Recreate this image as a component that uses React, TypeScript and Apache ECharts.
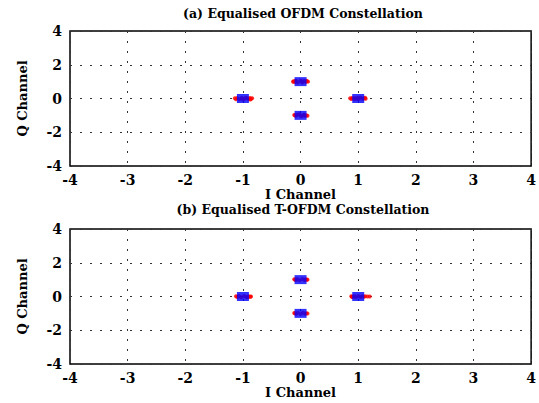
import React, { useEffect, useRef } from "react";
import * as echarts from "echarts";

const titles = ["(a) Equalised OFDM Constellation", "(b) Equalised T-OFDM Constellation"];
const xName = "I Channel";
const yName = "Q Channel";

// ideal constellation points (blue squares)
const idealPoints: number[][] = [
  [1, 0],
  [-1, 0],
  [0, 1],
  [0, -1],
];

// (a) equalised OFDM received symbols (red)
const ofdmPoints: number[][] = [
  [0.86, 0.02], [0.88, -0.03], [0.9, 0.04], [0.93, -0.05], [0.95, 0.03], [1.0, 0.05], [1.0, -0.05],
  [1.05, 0.04], [1.08, -0.03], [1.1, 0.02], [1.13, -0.01], [1.12, 0.04], [0.97, -0.02], [1.03, 0.01],
  [-1.14, 0.02], [-1.12, -0.04], [-1.1, 0.03], [-1.06, -0.05], [-1.02, 0.04], [-0.98, -0.03], [-0.95, 0.05],
  [-0.9, -0.04], [-0.88, 0.03], [-0.86, -0.02], [-0.84, 0.01], [-0.92, 0.02], [-1.0, -0.06], [-0.87, -0.06],
  [-0.12, 1.02], [-0.1, 0.97], [-0.08, 1.05], [-0.05, 0.95], [0.0, 1.07], [0.03, 0.94], [0.06, 1.04],
  [0.09, 0.98], [0.11, 1.02], [0.13, 1.0], [-0.13, 0.99], [0.1, 1.05], [-0.09, 1.04], [0.02, 1.01],
  [-0.1, -1.0], [-0.08, -1.03], [-0.06, -0.96], [-0.02, -0.93], [0.02, -1.06], [0.05, -0.97], [0.08, -1.03],
  [0.1, -1.0], [0.12, -1.02], [-0.11, -0.98], [0.07, -0.96], [0.0, -1.02],
];

// (b) equalised T-OFDM received symbols (red)
const tofdmPoints: number[][] = [
  [0.88, 0.02], [0.9, -0.03], [0.93, 0.03], [0.96, -0.04], [1.0, 0.03], [1.04, -0.03], [1.07, 0.02],
  [1.1, -0.01], [1.12, 0.01], [1.16, 0.0], [1.2, 0.0], [0.89, -0.01],
  [-1.12, 0.01], [-1.1, -0.03], [-1.07, 0.03], [-1.03, -0.04], [-0.98, 0.03], [-0.94, -0.03], [-0.9, 0.02],
  [-0.87, -0.02], [-0.86, 0.0], [-0.91, -0.04],
  [-0.1, 1.0], [-0.08, 0.97], [-0.06, 1.03], [-0.02, 0.96], [0.03, 1.04], [0.07, 0.97], [0.09, 1.02],
  [0.11, 0.99], [0.12, 1.0], [-0.11, 1.02],
  [-0.1, -1.0], [-0.08, -1.03], [-0.05, -0.96], [0.0, -1.04], [0.04, -0.96], [0.08, -1.03], [0.1, -0.99],
  [0.12, -1.01], [-0.11, -0.98],
];

const xTicks = { min: -4, max: 4, interval: 1 };
const yTicks = { min: -4, max: 4, interval: 2 };

const FONT = "DejaVu Serif";

export default function App() {
  const ref = useRef<HTMLDivElement>(null);
  useEffect(() => {
    if (!ref.current) return;
    const chart = echarts.init(ref.current, undefined, { renderer: "svg" });
    const grids = [
      { left: 70, top: 31, width: 462, height: 135 },
      { left: 70, top: 229, width: 462, height: 135 },
    ];
    const splitLine = {
      show: true,
      lineStyle: { color: "#333", width: 1, type: [2, 8] as number[] },
    };
    const labelStyle = {
      color: "#000",
      fontFamily: FONT,
      fontWeight: "bold" as const,
      fontSize: 14,
    };
    const nameStyle = {
      color: "#000",
      fontFamily: FONT,
      fontWeight: "bold" as const,
      fontSize: 13,
    };
    chart.setOption({
      animation: false,
      backgroundColor: "#fff",
      title: titles.map((t, i) => ({
        text: t,
        left: 298,
        top: i === 0 ? 2 : 198,
        textAlign: "center",
        textStyle: { ...nameStyle, fontSize: 12.5 },
      })),
      grid: grids.map((g) => ({
        ...g,
        show: true,
        borderColor: "#000",
        borderWidth: 1.5,
        backgroundColor: "#fff",
      })),
      xAxis: [0, 1].map((i) => ({
        type: "value",
        gridIndex: i,
        ...xTicks,
        name: xName,
        nameLocation: "middle",
        nameGap: 18,
        nameTextStyle: nameStyle,
        axisLine: { show: false },
        axisTick: { show: false },
        axisLabel: { ...labelStyle, margin: 7 },
        splitLine,
      })),
      yAxis: [0, 1].map((i) => ({
        type: "value",
        gridIndex: i,
        ...yTicks,
        name: yName,
        nameLocation: "middle",
        nameGap: 41,
        nameTextStyle: nameStyle,
        axisLine: { show: false },
        axisTick: { show: false },
        axisLabel: { ...labelStyle, margin: 8 },
        splitLine,
      })),
      series: [
        { data: ofdmPoints, idx: 0, red: true },
        { data: idealPoints, idx: 0, red: false },
        { data: tofdmPoints, idx: 1, red: true },
        { data: idealPoints, idx: 1, red: false },
      ].map((s) => ({
        type: "scatter",
        xAxisIndex: s.idx,
        yAxisIndex: s.idx,
        data: s.data,
        symbol: s.red ? "circle" : "rect",
        symbolSize: s.red ? 4 : [12, 9],
        itemStyle: { color: s.red ? "#ff0000" : "#0000ff" },
        z: s.red ? 2 : 3,
      })),
    });
    return () => chart.dispose();
  }, []);
  return <div ref={ref} style={{ width: 539, height: 403, position: "absolute", left: 0, top: 0 }} />;
}
